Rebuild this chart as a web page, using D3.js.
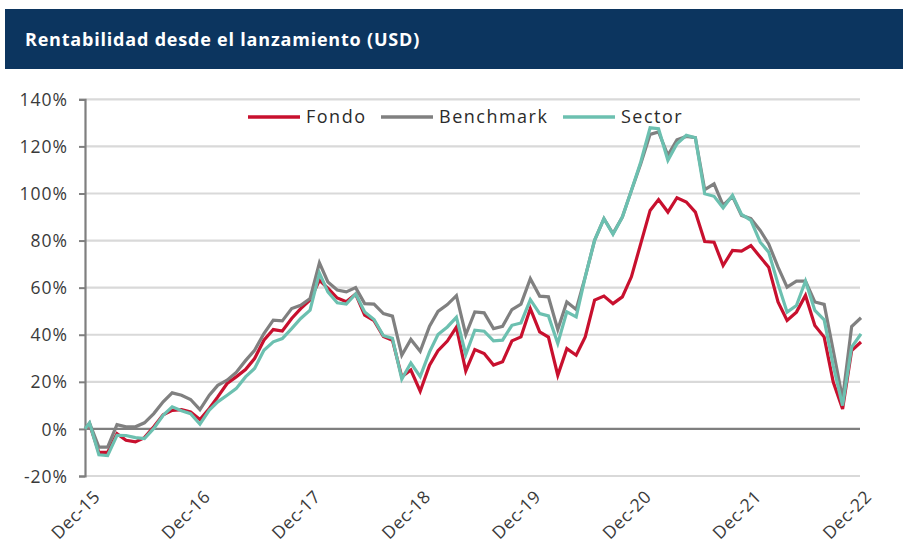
<!DOCTYPE html>
<html>
<head>
<meta charset="utf-8">
<script src="https://cdn.jsdelivr.net/npm/d3@7"></script>
<style>
    body { margin: 0; background: #fff; }
    svg { display: block; font-family: "Open Sans", sans-serif; }
</style>
</head>
<body>
<div id="chart"></div>
<script>
// Launch point followed by month-end values, Dec-15 .. Dec-22 (in %)
const launchDate = "2015-12-16";
const firstMonth = "2016-01-01";
const lastMonth = "2023-01-01";

const fondo = [0,
    2.0, -10.0, -10.0, -2.0, -4.8, -5.5, -3.7, 0.9, 6.0, 7.9, 8.2, 7.2,
    4.0, 8.7, 13.6, 19.3, 22.1, 25.2, 29.9, 37.7, 42.2, 41.6, 46.9, 51.1,
    54.7, 63.1, 59.8, 55.6, 54.0, 57.3, 48.3, 46.0, 39.3, 37.7, 22.1, 25.0,
    16.0, 27.1, 33.2, 37.3, 43.2, 24.6, 33.7, 32.0, 27.1, 28.5, 37.4, 39.1,
    51.1, 41.2, 39.0, 22.8, 34.1, 31.3, 39.1, 54.7, 56.4, 53.2, 56.1, 64.6,
    78.7, 92.8, 97.4, 92.1, 98.2, 96.4, 92.1, 79.6, 79.3, 69.4, 75.8, 75.5,
    77.9, 73.0, 68.7, 53.9, 46.1, 49.6, 56.7, 43.9, 39.0, 19.9, 8.5, 33.3,
    36.9];

const benchmark = [0,
    2.5, -7.7, -7.7, 1.8, 0.9, 0.9, 2.6, 6.5, 11.5, 15.3, 14.3, 12.5,
    8.2, 14.3, 18.5, 20.7, 24.0, 29.0, 33.4, 40.5, 46.2, 45.9, 51.1, 52.5,
    55.4, 70.5, 62.4, 59.0, 58.2, 60.0, 53.2, 53.0, 49.0, 47.9, 31.3, 38.0,
    33.0, 43.6, 49.9, 52.8, 56.6, 40.0, 49.7, 49.3, 42.6, 43.6, 50.7, 53.0,
    63.8, 56.4, 56.1, 42.2, 53.9, 50.7, 64.6, 80.1, 89.3, 83.0, 90.0, 101.3,
    112.6, 125.1, 126.1, 116.2, 122.8, 124.2, 123.7, 101.6, 104.1, 94.9, 98.8, 90.7,
    89.3, 84.3, 78.6, 68.7, 60.2, 62.8, 62.8, 53.9, 52.9, 33.3, 12.8, 43.5,
    47.2];

const sector = [0,
    2.5, -11.0, -11.3, -2.7, -2.8, -3.7, -4.1, 0.2, 5.8, 9.4, 7.7, 6.5,
    2.0, 8.0, 11.5, 14.3, 17.1, 22.1, 25.7, 33.4, 37.0, 38.4, 42.6, 46.9,
    50.4, 66.2, 58.2, 53.6, 53.0, 57.3, 49.7, 46.5, 39.6, 38.5, 21.2, 28.0,
    22.2, 32.7, 40.1, 43.3, 47.4, 31.6, 41.9, 41.5, 37.4, 37.7, 44.0, 45.0,
    54.9, 49.0, 48.0, 36.3, 49.7, 47.6, 64.6, 80.1, 89.3, 82.7, 90.0, 101.3,
    113.4, 127.9, 127.5, 114.1, 121.1, 124.7, 123.7, 99.9, 98.8, 93.9, 99.2, 91.1,
    88.6, 79.3, 75.1, 61.6, 49.6, 52.4, 62.8, 50.3, 46.3, 26.9, 9.9, 34.7,
    40.4];

const yTicks = [-20, 0, 20, 40, 60, 80, 100, 120, 140];
const xTickLabels = ["Dec-15", "Dec-16", "Dec-17", "Dec-18", "Dec-19", "Dec-20", "Dec-21", "Dec-22"];

const seriesNames = ["Fondo", "Benchmark", "Sector"];
const seriesColors = ["#c8102e", "#808080", "#6cc0b0"];

const width = 903, height = 544;
const plot = { left: 85, right: 861, top: 99.3, bottom: 476 };

// month-end dates
const monthEnds = d3.timeMonth.range(new Date(firstMonth + "T00:00"), d3.timeDay.offset(new Date(lastMonth + "T00:00"), 1))
    .map(d => d3.timeDay.offset(d, -1));
const dates = [new Date(launchDate + "T00:00"), ...monthEnds];

const svg = d3.select("#chart").append("svg")
    .attr("width", width)
    .attr("height", height);

// Title bar
svg.append("rect")
    .attr("x", 5).attr("y", 9)
    .attr("width", width - 5).attr("height", 60)
    .attr("fill", "#0c355f");
svg.append("text")
    .attr("x", 25).attr("y", 46)
    .attr("fill", "#fff")
    .style("font-size", "18px")
    .style("font-weight", 700)
    .style("letter-spacing", "0.8px")
    .text("Rentabilidad desde el lanzamiento (USD)");

const x = d3.scaleTime()
    .domain([dates[0], dates[dates.length - 1]])
    .range([plot.left, plot.right]);

const y = d3.scaleLinear()
    .domain([-20, 140])
    .range([plot.bottom, plot.top]);

// Gridlines
svg.append("g")
    .selectAll("line")
    .data(yTicks)
    .enter()
    .append("line")
    .attr("x1", plot.left).attr("x2", plot.right - 1)
    .attr("y1", d => y(d)).attr("y2", d => y(d))
    .attr("stroke", d => d === 0 ? "#7f7f7f" : "#d9d9d9")
    .attr("stroke-width", 2.2);

// Y axis
const yAxis = svg.append("g")
    .attr("transform", `translate(${plot.left},0)`)
    .call(d3.axisLeft(y).tickValues(yTicks).tickSize(6).tickPadding(11).tickFormat(d => d + "%"));
yAxis.select(".domain").attr("stroke", "#7f7f7f").attr("stroke-width", 2.2);
yAxis.selectAll(".tick line").attr("stroke", "#7f7f7f").attr("stroke-width", 2);
yAxis.selectAll(".tick text")
    .attr("fill", "#3a3a3a")
    .style("font-size", "17.5px")
    .style("letter-spacing", "1px")
    .style("font-family", "'Open Sans', sans-serif")
    .attr("dy", "0.35em");

// X tick labels (rotated)
const tickDates = dates.filter(d => d.getMonth() === 11 && d.getDate() === 31);
svg.append("g")
    .selectAll("text")
    .data(tickDates)
    .enter()
    .append("text")
    .attr("transform", d => `translate(${x(d) + 3},${plot.bottom + 13}) rotate(-45)`)
    .attr("text-anchor", "end")
    .attr("dy", "0.7em")
    .attr("fill", "#3a3a3a")
    .style("font-size", "17.5px")
    .style("letter-spacing", "0.6px")
    .text((d, i) => xTickLabels[i]);

// Lines
const seriesData = [fondo, benchmark, sector];
const line = d3.line()
    .x((d, i) => x(dates[i]))
    .y(d => y(d));

svg.append("g")
    .selectAll("path")
    .data(seriesData)
    .enter()
    .append("path")
    .attr("fill", "none")
    .attr("stroke", (d, i) => seriesColors[i])
    .attr("stroke-width", 3.2)
    .attr("stroke-linejoin", "miter")
    .attr("d", d => line(d));

// Legend
const legendX = [248, 381, 563];
const legend = svg.append("g")
    .selectAll("g")
    .data(seriesNames)
    .enter()
    .append("g")
    .attr("transform", (d, i) => `translate(${legendX[i]},117)`);

legend.append("line")
    .attr("x1", 0).attr("x2", 52)
    .attr("stroke", (d, i) => seriesColors[i])
    .attr("stroke-width", 3.5);

legend.append("text")
    .attr("x", 58)
    .attr("dy", "0.35em")
    .attr("fill", "#2b2b2b")
    .style("font-size", "18px")
    .style("letter-spacing", "1.5px")
    .text(d => d);
</script>
</body>
</html>
